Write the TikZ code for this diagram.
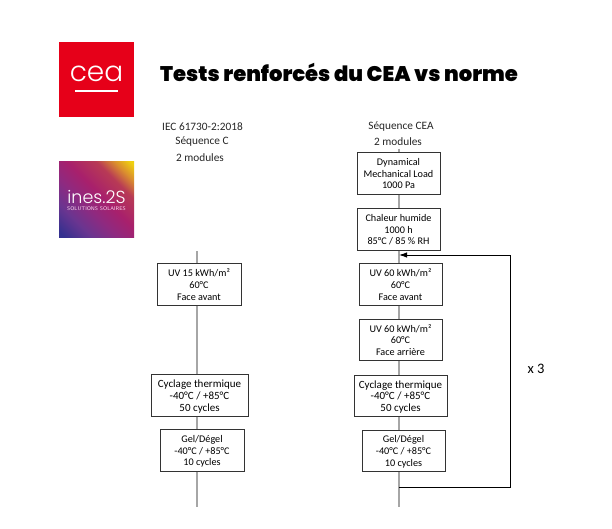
\documentclass[tikz,border=0pt]{standalone}
\usepackage{fontspec}
\setmainfont{Carlito}
\newfontfamily\titlefont{Poppins Black}
\newfontfamily\logofont{Poppins Light}
\usetikzlibrary{arrows.meta}
\definecolor{ceared}{HTML}{E60019}
\definecolor{spine}{HTML}{A6A6A6}
\definecolor{edge}{HTML}{333333}
\definecolor{gA}{HTML}{34308F}
\definecolor{gB}{HTML}{6A3590}
\definecolor{gC}{HTML}{8E2A80}
\definecolor{gD}{HTML}{A8206C}
\definecolor{gE}{HTML}{B83A55}
\definecolor{gF}{HTML}{D98A30}
\definecolor{gG}{HTML}{EFD010}
\pgfdeclarehorizontalshading{inesgrad}{100bp}{
 color(0bp)=(gA);color(17bp)=(gA);color(30bp)=(gB);color(42bp)=(gC);color(54bp)=(gD);color(68bp)=(gE);color(76bp)=(gF);color(84bp)=(gG);color(100bp)=(gG)}
\tikzset{
 testbox/.style={draw=edge,line width=0.9pt,fill=white,align=center,inner sep=0pt,minimum height=41.5pt,text depth=0pt,font=\fontsize{10.2}{11.7}\selectfont},
 widetext/.style={font=\fontsize{11}{11.7}\selectfont},
 spineline/.style={draw=spine,line width=1.2pt},
 plain/.style={font=\fontsize{11.3}{12}\selectfont,text=black!85,inner sep=0pt},
}
\begin{document}
\begin{tikzpicture}[x=1pt,y=-1pt]
\useasboundingbox (0,0) rectangle (612,529);
\fill[white] (0,0) rectangle (612,529);
% logos
\fill[ceared] (59,42) rectangle (134,117);
\node[inner sep=0pt,text=white,font=\logofont\fontsize{28}{28}\selectfont] (cealogo) at (96.5,74) {cea};
\fill[white] (75,90.2) rectangle (118,91.8);
\shade[shading=inesgrad,shading angle=45] (59,162) rectangle (134,237);
\node[inner sep=0pt,text=white,font=\logofont\fontsize{17.5}{17.5}\selectfont] (ineslogo) at (96.5,196.5) {ines.2S};
\node[inner sep=0pt,text=white!85!magenta,font=\sffamily\fontsize{5.3}{5.3}\selectfont] (ineslogosub) at (96.5,208.5) {SOLUTIONS SOLAIRES};
% title
\node[inner sep=0pt,font=\titlefont\fontsize{21.1}{22}\selectfont] (title) at (339,72) {Tests renforcés du CEA vs norme};
% headers
\node[plain] (h1) at (202.5,127) {IEC 61730-2:2018};
\node[plain] (h2) at (202,141.5) {Séquence C};
\node[plain] (h3) at (200,158) {2 modules};
\node[plain] (h4) at (401,127) {Séquence CEA};
\node[plain] (h5) at (398,141.5) {2 modules};
\node[font=\fontsize{14.5}{14.5}\selectfont,inner sep=0pt] (x3) at (536,369) {x 3};
% left column
\coordinate (ltop) at (197,251);
\coordinate (lbot) at (197,507);
\node[testbox,minimum width=84pt] (l1) at (199,284.5) {UV 15 kWh/m²\\60°C\\Face avant};
\node[testbox,widetext,minimum width=97pt] (l2) at (199.5,395.5) {Cyclage thermique\\-40°C / +85°C\\50 cycles};
\node[testbox,minimum width=84pt] (l3) at (202,450.5) {Gel/Dégel\\-40°C / +85°C\\10 cycles};
% right column
\coordinate (rtop) at (399,149);
\coordinate (rbot) at (399,507);
\coordinate (rfork) at (399,487);
\coordinate (rmerge) at (399,255);
\coordinate (rcornerb) at (510,487);
\coordinate (rcornert) at (510,255);
\node[testbox,minimum width=83pt] (r1) at (398.5,173.5) {Dynamical\\Mechanical Load\\1000 Pa};
\node[testbox,minimum width=83pt] (r2) at (398.5,229.5) {Chaleur humide\\1000 h\\85°C / 85 \% RH};
\node[testbox,minimum width=83pt] (r3) at (400.5,284.5) {UV 60 kWh/m²\\60°C\\Face avant};
\node[testbox,minimum width=83pt] (r4) at (400.5,340) {UV 60 kWh/m²\\60°C\\Face arrière};
\node[testbox,widetext,minimum width=93pt] (r5) at (400.5,396) {Cyclage thermique\\-40°C / +85°C\\50 cycles};
\node[testbox,minimum width=83pt] (r6) at (403.5,451) {Gel/Dégel\\-40°C / +85°C\\10 cycles};
% connectors
\draw[spineline] (ltop) -- (ltop|-l1.north);
\draw[spineline] (ltop|-l1.south) -- (ltop|-l2.north);
\draw[spineline] (ltop|-l2.south) -- (ltop|-l3.north);
\draw[spineline] (ltop|-l3.south) -- (lbot);
\draw[spineline] (rtop) -- (rtop|-r1.north);
\draw[spineline] (rtop|-r1.south) -- (rtop|-r2.north);
\draw[spineline] (rtop|-r2.south) -- (rtop|-r3.north);
\draw[spineline] (rtop|-r3.south) -- (rtop|-r4.north);
\draw[spineline] (rtop|-r4.south) -- (rtop|-r5.north);
\draw[spineline] (rtop|-r5.south) -- (rtop|-r6.north);
\draw[spineline] (rtop|-r6.south) -- (rbot);
\draw[line width=1pt,-{Latex[length=8pt,width=5.5pt]}] (rfork) -- (rcornerb) -- (rcornert) -- (rmerge);
\end{tikzpicture}
\end{document}
